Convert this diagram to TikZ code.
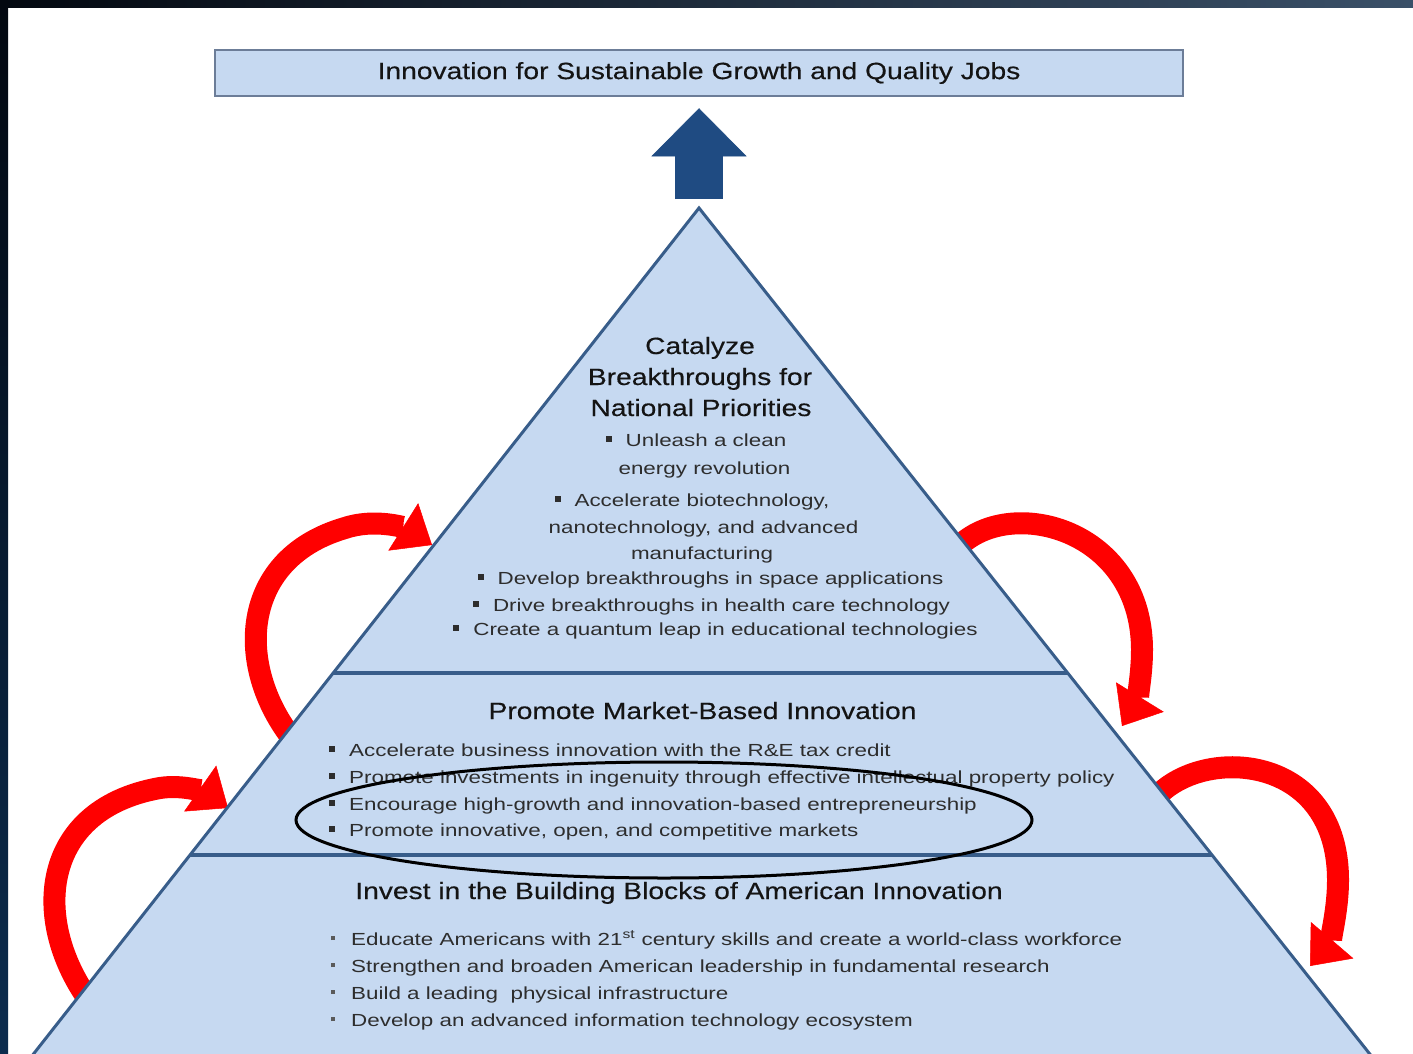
\documentclass[tikz,border=0pt]{standalone}
\usepackage{fontspec}
\setmainfont{Liberation Sans}
\newfontfamily\headfont[FakeStretch=1.2,FakeBold=0.35]{Liberation Sans}
\newfontfamily\itemfont[FakeStretch=1.28]{Liberation Sans}
\usetikzlibrary{arrows.meta}

\definecolor{layerfill}{RGB}{198,217,241}
\definecolor{layeredge}{RGB}{56,93,138}
\definecolor{boxedge}{RGB}{108,125,152}
\definecolor{upblue}{RGB}{31,75,130}
\definecolor{frameA}{RGB}{3,8,16}
\definecolor{frameB}{RGB}{58,80,104}
\definecolor{frameC}{RGB}{12,44,78}
\definecolor{headtext}{RGB}{20,20,20}
\definecolor{itemtext}{RGB}{45,45,45}
\definecolor{bulgray}{RGB}{90,90,90}
\definecolor{loopred}{RGB}{255,0,0}

% square bullet (upper tiers) and small grey bullet (base tier)
\newcommand{\sqbul}{\raisebox{4pt}{\rule{6pt}{6pt}}\hspace{14pt}}
\newcommand{\dotbul}{\textcolor{bulgray}{\raisebox{5pt}{\rule{4pt}{4pt}}}\hspace{16pt}}

\begin{document}
\begin{tikzpicture}[x=1pt,y=-1pt,
  titlebox/.style={draw=boxedge, line width=2.5pt, fill=layerfill,
    minimum width=968pt, minimum height=46pt, inner sep=0pt,
    font=\headfont\fontsize{23.5}{28}\selectfont, text=headtext},
  heading/.style={anchor=base, inner sep=0pt,
    font=\headfont\fontsize{23.5}{28}\selectfont, text=headtext},
  itemline/.style={anchor=base, inner sep=0pt,
    font=\itemfont\fontsize{17.5}{21}\selectfont, text=itemtext},
  leftitem/.style={itemline, anchor=base west},
  looparrow/.style={draw=loopred, line width=22pt,
    -{Triangle[length=34pt,width=56pt,line width=0.5pt]}},
  upshaft/.style={draw=upblue, line width=48pt,
    -{Triangle[length=48pt,width=95pt,line width=0.5pt]}}
]
\useasboundingbox (0,0) rectangle (1413,1054);
\clip (0,0) rectangle (1413,1054);
\fill[white] (0,0) rectangle (1413,1054);

% dark frame along the top and left edges
\shade[left color=frameA, right color=frameB] (0,0) rectangle (1413,8);
\shade[top color=frameA, bottom color=frameC] (0,0) rectangle (8,1054);

% goal box
\node[titlebox] (goal) at (699,73) {Innovation for Sustainable Growth and Quality Jobs};

% red feedback loops (tails tucked under the pyramid)
\draw[looparrow] (300,748) .. controls (235,675) and (235,560) .. (345,528)
                 .. controls (375,518) and (405,528) .. (432,545);
\draw[looparrow] (98,1012) .. controls (30,930) and (35,810) .. (160,788)
                 .. controls (185,784) and (208,794) .. (228,808);
\draw[looparrow] (948,560) .. controls (990,490) and (1142,520) .. (1142,650)
                 .. controls (1142,680) and (1135,705) .. (1122,726);
\draw[looparrow] (1148,808) .. controls (1185,745) and (1338,745) .. (1338,880)
                 .. controls (1338,915) and (1328,945) .. (1310,966);

% pyramid
\coordinate (apex) at (699,208);
\filldraw[fill=layerfill, draw=layeredge, line width=3pt]
  (apex) -- (1390.4,1080) -- (13,1080) -- cycle;
\draw[layeredge, line width=4pt] (333.2,673) -- (1067.7,673);
\draw[layeredge, line width=4pt] (190,855) -- (1212,855);

% arrow from the pyramid to the goal
\coordinate (arrowbase) at (699,199);
\draw[upshaft] (arrowbase) -- ([yshift=-11pt]goal.south);

% top tier
\node[heading] (topA) at (700,354) {Catalyze};
\node[heading] (topB) at (700,385) {Breakthroughs for};
\node[heading] (topC) at (701,416) {National Priorities};
\node[itemline] (t1a) at (696,446) {\sqbul Unleash a clean};
\node[itemline] (t1b) at (704.5,474) {energy revolution};
\node[itemline] (t2a) at (692,506) {\sqbul Accelerate biotechnology,};
\node[itemline] (t2b) at (703.5,533) {nanotechnology, and advanced};
\node[itemline] (t2c) at (702,559) {manufacturing};
\node[itemline] (t3) at (710.5,584) {\sqbul Develop breakthroughs in space applications};
\node[itemline] (t4) at (711.5,611) {\sqbul Drive breakthroughs in health care technology};
\node[itemline] (t5) at (715.5,635) {\sqbul Create a quantum leap in educational technologies};

% middle tier
\node[heading] (midH) at (702.5,719) {Promote Market-Based Innovation};
\node[leftitem] (m1) at (329,756) {\sqbul Accelerate business innovation with the R\&E tax credit};
\node[leftitem] (m2) at (329,783) {\sqbul Promote investments in ingenuity through effective intellectual property policy};
\node[leftitem] (m3) at (329,810) {\sqbul Encourage high-growth and innovation-based entrepreneurship};
\node[leftitem] (m4) at (329,836) {\sqbul Promote innovative, open, and competitive markets};

% base tier
\node[heading] (botH) at (679,899) {Invest in the Building Blocks of American Innovation};
\node[leftitem] (b1) at (331,945) {\dotbul Educate Americans with 21\textsuperscript{st} century skills and create a world-class workforce};
\node[leftitem] (b2) at (331,972) {\dotbul Strengthen and broaden American leadership in fundamental research};
\node[leftitem] (b3) at (331,999) {\dotbul Build a leading\ \ physical infrastructure};
\node[leftitem] (b4) at (331,1026) {\dotbul Develop an advanced information technology ecosystem};

% highlight ring around the entrepreneurship items
\draw[black, line width=3pt] (664,820) ellipse [x radius=368, y radius=58];
\end{tikzpicture}
\end{document}
